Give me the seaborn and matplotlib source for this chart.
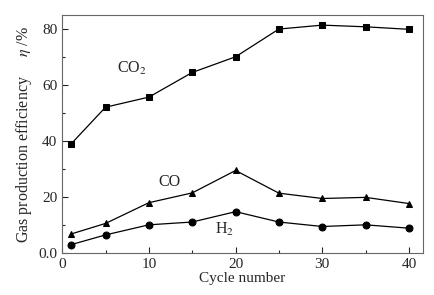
"""gas production efficiency vs cycle number"""

import pandas as pd
import matplotlib
matplotlib.use("Agg")
import matplotlib.pyplot as plt
from matplotlib.ticker import MultipleLocator
import seaborn as sns

cycles = [1, 5, 10, 15, 20, 25, 30, 35, 40]
co2 = [38.9, 52.1, 55.7, 64.5, 70.1, 80.0, 81.4, 80.8, 79.9]
co = [6.8, 10.6, 18.0, 21.5, 29.5, 21.4, 19.5, 19.9, 17.7]
h2 = [3.0, 6.5, 10.1, 11.1, 14.8, 11.1, 9.5, 10.1, 8.9]

df = pd.DataFrame({"cycle": cycles * 3,
                   "eta": co2 + co + h2,
                   "gas": ["CO2"] * 9 + ["CO"] * 9 + ["H2"] * 9})

sns.set_style("ticks")
plt.rcParams["font.family"] = ["Liberation Serif", "DejaVu Serif"]
plt.rcParams["mathtext.fontset"] = "stix"
plt.rcParams["font.size"] = 11

fig, ax = plt.subplots(figsize=(4.35, 2.95), dpi=100)
sns.lineplot(data=df, x="cycle", y="eta", style="gas", markers={"CO2": "s", "CO": "^", "H2": "o"},
             dashes=False, color="black", linewidth=0.9, markersize=5, markeredgecolor="black",
             legend=False, ax=ax)

ax.text(8, 66, r"CO$_2$", ha="center", va="center", fontsize=11.5)
ax.text(12.4, 25.5, "CO", ha="center", va="center", fontsize=11.5)
ax.text(18.7, 8.5, r"H$_2$", ha="center", va="center", fontsize=11.5)

ax.set_xlim(0, 41.6)
ax.set_ylim(0, 85)
ax.xaxis.set_major_locator(MultipleLocator(10))
ax.xaxis.set_minor_locator(MultipleLocator(5))
ax.yaxis.set_major_locator(MultipleLocator(20))
ax.yaxis.set_minor_locator(MultipleLocator(10))
ax.set_yticks([0, 20, 40, 60, 80], ["0.0", "20", "40", "60", "80"])
ax.tick_params(which="both", direction="in", labelsize=11, width=0.8)
ax.tick_params(which="major", length=4)
ax.tick_params(which="minor", length=2.5)
for s in ax.spines.values():
    s.set_visible(True)
    s.set_color("#666666")
    s.set_linewidth(0.8)

ax.set_xlabel("Cycle number", fontsize=11, labelpad=1)
ax.set_ylabel(r"Gas production efficiency     $\eta$ /%", fontsize=11.5, labelpad=3)

plt.subplots_adjust(left=0.143, right=0.972, top=0.949, bottom=0.142)
plt.savefig("out.png")
plt.close()
